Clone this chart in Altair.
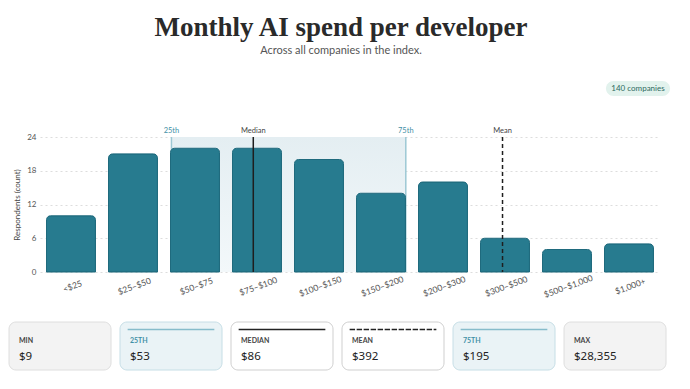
import altair as alt
import pandas as pd

# ---------------- data ----------------
bins = ["<$25", "$25–$50", "$50–$75", "$75–$100", "$100–$150",
        "$150–$200", "$200–$300", "$300–$500", "$500–$1,000", "$1,000+"]
counts = [10, 21, 22, 22, 20, 14, 16, 6, 4, 5]
bin_lo = [0, 25, 50, 75, 100, 150, 200, 300, 500, 1000]
bin_hi = [25, 50, 75, 100, 150, 200, 300, 500, 1000, 30000]

stat_names = ["MIN", "25TH", "MEDIAN", "MEAN", "75TH", "MAX"]
stat_values = [9, 53, 86, 392, 195, 28355]
stat_kinds = ["range", "quartile", "median", "mean", "quartile", "range"]
marker_names = ["25TH", "MEDIAN", "75TH", "MEAN"]
marker_labels = ["25th", "Median", "75th", "Mean"]
y_ticks = [0, 6, 12, 18, 24]

W, H = 620, 135


def bin_position(v):
    for i, (lo, hi) in enumerate(zip(bin_lo, bin_hi)):
        if lo <= v < hi:
            return i + (v - lo) / (hi - lo)
    return float(len(bins))


bars_df = pd.DataFrame({"bin": bins, "count": counts})

stat_map = dict(zip(stat_names, stat_values))
kind_map = dict(zip(stat_names, stat_kinds))
markers_df = pd.DataFrame({
    "name": marker_names,
    "label": marker_labels,
    "pos": [bin_position(stat_map[n]) for n in marker_names],
    "kind": [kind_map[n] for n in marker_names],
})
iqr_df = pd.DataFrame({"lo": [bin_position(stat_map["25TH"])],
                       "hi": [bin_position(stat_map["75TH"])]})
cards_df = pd.DataFrame({
    "name": stat_names,
    "value": [f"${v:,}" for v in stat_values],
    "kind": stat_kinds,
})
badge_df = pd.DataFrame({"text": [f"{sum(counts)} companies"]})

# ---------------- shared scales ----------------
xlin = alt.Scale(domain=[0, len(bins)], range=[0, W], nice=False, zero=False)
ysc = alt.Scale(domain=[0, 24], nice=False)
kinds_all = ["range", "quartile", "median", "mean"]
text_color = alt.Scale(domain=kinds_all, range=["#444444", "#3f90a6", "#444444", "#444444"])
dash_scale = alt.Scale(domain=kinds_all, range=[[1, 0], [1, 0], [1, 0], [4, 3]])
card_scale = alt.Scale(domain=stat_names, range=[-31, 626], paddingInner=9 / 111, paddingOuter=0)

FONT = "Lato"

y_axis = alt.Axis(title="Respondents (count)", values=y_ticks, labelOverlap=False,
                  labelFontSize=8, labelColor="#555555", labelFont=FONT, labelPadding=4,
                  ticks=False, domain=False, grid=True,
                  gridColor="#dddddd", gridDash=[2, 3],
                  titleFont=FONT, titleFontSize=8, titleFontWeight="normal",
                  titleColor="#444444", titlePadding=5)


def y_top():
    return alt.YDatum(24, scale=ysc, axis=y_axis)


# ---------------- main chart layers ----------------
iqr = alt.Chart(iqr_df).mark_rect(
    fill=alt.Gradient(gradient="linear",
                      stops=[alt.GradientStop(color="#e4eef2", offset=0),
                             alt.GradientStop(color="#f3f8fa", offset=1)],
                      x1=0, x2=0, y1=0, y2=1)
).encode(
    x=alt.X("lo:Q", scale=xlin, axis=None),
    x2="hi:Q",
    y=y_top(),
    y2=alt.datum(0),
)

quart_rules = alt.Chart(markers_df).transform_filter(
    alt.datum.kind == "quartile"
).mark_rule(color="#9dc8d4", strokeWidth=1.5).encode(
    x=alt.X("pos:Q", scale=xlin, axis=None),
    y=y_top(),
    y2=alt.datum(0),
)

bars = alt.Chart(bars_df).mark_bar(
    color="#277b8f", stroke="#1f6a7d", strokeWidth=1,
    cornerRadiusTopLeft=4, cornerRadiusTopRight=4,
).encode(
    x=alt.X("bin:N", sort=bins, title=None,
            scale=alt.Scale(paddingInner=0.21, paddingOuter=0.105),
            axis=alt.Axis(labelAngle=340, labelAlign="center", labelBaseline="top",
                          labelPadding=10, labelFontSize=8.5, labelColor="#555555",
                          labelFont=FONT, ticks=False, domain=False, grid=False)),
    y=alt.Y("count:Q", scale=ysc, axis=y_axis),
)

center_rules = alt.Chart(markers_df).transform_filter(
    alt.datum.kind != "quartile"
).mark_rule(color="#1e1e1e", strokeWidth=1.5).encode(
    x=alt.X("pos:Q", scale=xlin, axis=None),
    y=y_top(),
    y2=alt.datum(0),
    strokeDash=alt.StrokeDash("kind:N", scale=dash_scale, legend=None),
)

marker_text = alt.Chart(markers_df).mark_text(
    fontSize=7.5, font=FONT, baseline="middle", align="center"
).encode(
    x=alt.X("pos:Q", scale=xlin, axis=None),
    y=alt.value(-6.5),
    text="label:N",
    color=alt.Color("kind:N", scale=text_color, legend=None),
)

badge_bg = alt.Chart(badge_df).mark_rect(
    fill="#e2f2ed", cornerRadius=8
).encode(x=alt.value(566), x2=alt.value(630), y=alt.value(-56), y2=alt.value(-41))

badge_text = alt.Chart(badge_df).mark_text(
    fontSize=8, font=FONT, color="#2e6b5f", baseline="middle", align="center"
).encode(x=alt.value(598), y=alt.value(-48.5), text="text:N")

# ---------------- summary cards ----------------
card_x = alt.X("name:N", sort=stat_names, scale=card_scale, axis=None)

card_rect = alt.Chart(cards_df).mark_rect(cornerRadius=7, strokeWidth=1).encode(
    x=card_x,
    y=alt.value(185), y2=alt.value(233),
    fill=alt.Fill("kind:N", scale=alt.Scale(domain=kinds_all,
                  range=["#f3f3f3", "#eaf3f6", "#ffffff", "#ffffff"]), legend=None),
    stroke=alt.Stroke("kind:N", scale=alt.Scale(domain=kinds_all,
                      range=["#dedede", "#c6dee6", "#cfcfcf", "#cfcfcf"]), legend=None),
)

card_accent = alt.Chart(cards_df).transform_filter(
    alt.datum.kind != "range"
).mark_bar(width=alt.RelativeBandSize(0.85), fillOpacity=0, strokeWidth=1.5).encode(
    x=card_x,
    y=alt.value(192.5), y2=alt.value(192.5),
    stroke=alt.Stroke("kind:N", scale=alt.Scale(domain=kinds_all,
                      range=["#dedede", "#86bccb", "#222222", "#222222"]), legend=None),
    strokeDash=alt.StrokeDash("kind:N", scale=dash_scale, legend=None),
)

card_label = alt.Chart(cards_df).mark_text(
    fontSize=7, font=FONT, fontWeight="bold", align="left", baseline="middle", dx=10
).encode(
    x=alt.X("name:N", sort=stat_names, scale=card_scale, axis=None, bandPosition=0),
    y=alt.value(204),
    text="name:N",
    color=alt.Color("kind:N", scale=text_color, legend=None),
)

card_value = alt.Chart(cards_df).mark_text(
    fontSize=11.5, font="Noto Sans", color="#222222", align="left", baseline="middle", dx=10
).encode(
    x=alt.X("name:N", sort=stat_names, scale=card_scale, axis=None, bandPosition=0),
    y=alt.value(220),
    text="value:N",
)

cards = alt.layer(card_rect, card_accent, card_label, card_value).resolve_scale(
    stroke="independent")

overlay_back = alt.layer(iqr, quart_rules)
overlay_front = alt.layer(center_rules, marker_text)

chart = alt.layer(
    overlay_back, bars, overlay_front, badge_bg, badge_text, cards
).resolve_scale(x="independent").properties(
    width=W, height=H,
    title=alt.TitleParams(
        text="Monthly AI spend per developer",
        subtitle="Across all companies in the index.",
        font="Liberation Serif", fontSize=27, fontWeight="bold", color="#2a2a2a",
        subtitleFont=FONT, subtitleFontSize=11, subtitleColor="#555555",
        subtitlePadding=3, anchor="middle", offset=24, dx=-9,
    ),
    autosize=alt.AutoSizeParams(type="none"),
    padding={"left": 40, "top": 137, "right": 30, "bottom": 117},
).configure(background="white", view=alt.ViewConfig(stroke=None))

chart.save("out.html", embed_options={"renderer": "svg", "actions": False})
